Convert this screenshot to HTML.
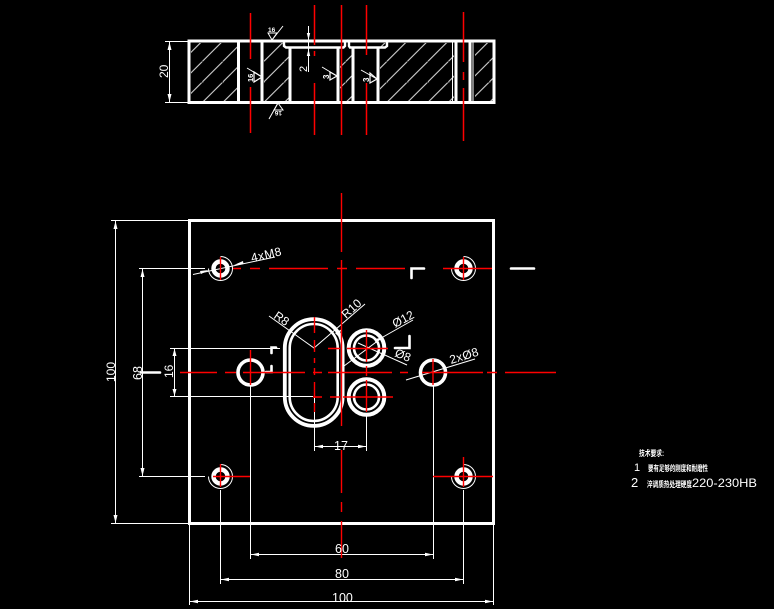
<!DOCTYPE html>
<html><head><meta charset="utf-8"><style>
html,body{margin:0;padding:0;background:#000;width:774px;height:609px;overflow:hidden}
svg{display:block}
text{font-family:"Liberation Sans","Noto Sans CJK SC",sans-serif;fill:#fff}
</style></head><body>
<svg width="774" height="609" viewBox="0 0 774 609" xmlns="http://www.w3.org/2000/svg">
<defs>
<pattern id="h" patternUnits="userSpaceOnUse" width="20.5" height="20.5" patternTransform="translate(17.8,0)">
<path d="M0 20.5L20.5 0" stroke="#ddd" stroke-width="1"/>
</pattern>
</defs>
<rect width="774" height="609" fill="#000"/>

<!-- hatching -->
<g fill="url(#h)">
<rect x="191" y="43" width="46" height="58"/>
<rect x="264" y="43" width="25" height="58"/>
<rect x="340" y="49" width="12" height="52"/>
<rect x="380" y="43" width="74" height="58"/>
<rect x="475" y="43" width="18" height="58"/>
</g>

<!-- section outline -->
<g fill="none" stroke="#fff" stroke-width="3">
<rect x="189" y="41" width="305" height="61.500"/>
<path d="M238.500 41V102M262 41V102M290 47V102M338 47V102M353 47V102M378 47V102M456 41V102M470 41V102"/>
<path d="M284 41V46L286 47.500H343.500L345 46V41M349 41V46L350 47.500H385L387 46V41" stroke-width="2.400"/>
</g>
<path d="M452.500 41V102M473 41V102" stroke="#fff" stroke-width="1"/>

<!-- section dim -->
<g stroke="#fff" stroke-width="1" fill="none">
<path d="M165 41.500H188M165 102.500H188M169.500 42V102"/>
<path d="M308.500 26V72"/>
<path d="M272 40L283 26M278 103L269 119"/>
<path d="M247 68L262 77M322 67L337 76M361 70L377 79"/>
<path d="M268 33H277L272 40ZM274 110H283L278 103Z"/>
<path d="M254 72V82L262 77ZM330 72V80L337 76ZM370 73V83L377 79Z" stroke-width="1.200"/>
</g>
<g fill="#fff">
<path d="M169.500 42L167.500 50H171.500ZM169.500 102L167.500 94H171.500ZM308.500 40L306.800 33H310.200ZM308.500 49L306.800 56H310.200Z"/>
</g>
<text x="0" y="0" font-size="12" transform="translate(168,78) rotate(-90)">20</text>
<text x="0" y="0" font-size="11" transform="translate(307,72) rotate(-90)">2</text>
<text x="268" y="32" font-size="6.500" font-weight="bold">16</text>
<text x="0" y="0" font-size="6.500" font-weight="bold" transform="translate(282,111) rotate(180)">16</text>
<text x="0" y="0" font-size="7.500" font-weight="bold" transform="translate(253,82) rotate(-90)">16</text>
<text x="0" y="0" font-size="8" font-weight="bold" transform="translate(329,79) rotate(-90)">3</text>
<text x="0" y="0" font-size="8" font-weight="bold" transform="translate(369,82) rotate(-90)">3</text>

<!-- section centre lines -->
<g stroke="#f00" stroke-width="1.500" fill="none">
<path d="M250.500 13V59M250.500 87V133"/>
<path d="M314.500 5V45M314.500 51V56M314.500 83V135"/>
<path d="M341.500 5V135"/>
<path d="M366.500 5V55M366.500 83V135"/>
<path d="M463.500 12V62M463.500 72V80M463.500 88V141"/>
</g>

<!-- plate -->
<rect x="189.500" y="220.500" width="304" height="303" fill="none" stroke="#fff" stroke-width="3"/>

<!-- thin dims and extensions -->
<g stroke="#fff" stroke-width="1" fill="none">
<path d="M111 220.500H189M111 523.500H189M115.500 221V523"/>
<path d="M139 268.500H205M139 476.500H205M142.500 269V476"/>
<path d="M170 348.500H280M170 396.500H313M174.500 349V396"/>
<path d="M189.500 524V605M220.500 490V584M250.500 385V559M433.500 385V559M463.500 490V584M493.500 524V605"/>
<path d="M190 601.500H493M221 579.500H463M251 554.500H433"/>
<path d="M314.500 397V451M366.500 416V451M315 446.500H366"/>
<path d="M193 274.500L275 257"/>
<path d="M269 316L314 348L365 304"/>
<path d="M344 366L383 337L413 320"/>
<path d="M358 343L407 365"/>
<path d="M406 380L475 359"/>
</g>
<g fill="#fff">
<path d="M115.500 523L113.500 515H117.500ZM115.500 221L113.500 229H117.500ZM142.500 476L140.500 468H144.500ZM142.500 269L140.500 277H144.500ZM174.500 348.500L172.500 356H176.500ZM174.500 396L172.500 389H176.500Z"/>
<path d="M190 601.500L198 599.700V603.300ZM493 601.500L485 599.700V603.300ZM221 579.500L229 577.700V581.300ZM463 579.500L455 577.700V581.300ZM251 554.500L259 552.700V556.300ZM433 554.500L425 552.700V556.300ZM315 446.500L323 444.700V448.300ZM366 446.500L358 444.700V448.300Z"/>
<path d="M383 337L376 343L374 339.500ZM234 265L243 261L243.500 264ZM209 270L200 271L201 274ZM342 329L338 336L335 333Z"/>
</g>

<!-- thick shapes -->
<g fill="none" stroke="#fff">
<path d="M284.800 348A28.900 28.900 0 0 1 342.600 348V397A28.900 28.900 0 0 1 284.800 397Z" stroke-width="3.800"/>
<path d="M289.700 348A24 24 0 0 1 337.700 348V397A24 24 0 0 1 289.700 397Z" stroke-width="2.600"/>
<circle cx="366.500" cy="348" r="17.800" stroke-width="4"/>
<circle cx="366.500" cy="348" r="12.500" stroke-width="2.600"/>
<circle cx="366.500" cy="397" r="17.800" stroke-width="4"/>
<circle cx="366.500" cy="397" r="12.500" stroke-width="2.600"/>
<circle cx="250.500" cy="372.500" r="12.500" stroke-width="3.600"/>
<circle cx="433" cy="372.500" r="12.500" stroke-width="3.600"/>
<g stroke-width="4.400">
<circle cx="220.500" cy="268.500" r="7"/><circle cx="463.500" cy="268.500" r="7"/>
<circle cx="220.500" cy="476.500" r="7"/><circle cx="463.500" cy="476.500" r="7"/>
</g>
<g stroke-width="1">
<path d="M220.500 256.500A12 12 0 1 1 208.500 268.500"/>
<path d="M463.500 256.500A12 12 0 1 1 451.500 268.500"/>
<path d="M220.500 464.500A12 12 0 1 1 208.500 476.500"/>
<path d="M463.500 464.500A12 12 0 1 1 451.500 476.500"/>
</g>
<g stroke-width="2.600" stroke-linecap="round">
<path d="M424 268.500H411.500V278"/>
<path d="M511 268.500H534"/>
<path d="M276 347.500H271.500V353"/>
<path d="M266 372H271.500V366"/>
<path d="M395 348H409.500V336"/>
<path d="M141 372.500H160"/>
</g>
</g>

<!-- red centre lines plate -->
<g stroke="#f00" stroke-width="1.400" fill="none">
<path d="M180 372.500H217M225 372.500H236M243 372.500H305M313 372.500H322M328 372.500H392M400 372.500H408M422 372.500H483M487 372.500H497M505 372.500H556"/>
<path d="M233 268.500H241M250 268.500H260M269 268.500H328M337 268.500H347M356 268.500H405M443 268.500H492"/>
<path d="M213 476.500H250M433 476.500H493"/>
<path d="M328 348.500H340M347 348.500H388M313 397H322M330 397H340M343 397H393"/>
<path d="M341.500 193V252M341.500 260V426M341.500 450V493M341.500 502V512M341.500 521V558"/>
<path d="M314.500 317V333M314.500 340V352M314.500 358V363M314.500 368V375M314.500 382V398M314.500 403V412"/>
<path d="M366.500 330V362M366.500 366V376M366.500 380V412"/>
<path d="M250.500 350V385M433 359V385"/>
<path d="M220.500 257V280M463.500 257V280M220.500 464V487M463.500 457V487"/>
</g>

<!-- labels -->
<text x="0" y="0" font-size="12" transform="translate(115,382) rotate(-90)">100</text>
<text x="0" y="0" font-size="12.500" transform="translate(142,380) rotate(-90)">68</text>
<text x="0" y="0" font-size="12" transform="translate(173,378) rotate(-90)">16</text>
<text x="0" y="0" font-size="12" style="letter-spacing:.5px" transform="translate(252,262) rotate(-13)">4xM8</text>
<text x="0" y="0" font-size="12" transform="translate(273,317.500) rotate(35)">R8</text>
<text x="0" y="0" font-size="12" transform="translate(346,319) rotate(-42)">R10</text>
<text x="0" y="0" font-size="12" transform="translate(395,328) rotate(-28)">Ø12</text>
<text x="0" y="0" font-size="12" transform="translate(394,356) rotate(22)">Ø8</text>
<text x="0" y="0" font-size="12" style="letter-spacing:.3px" transform="translate(451,364) rotate(-17)">2xØ8</text>
<text x="334" y="450" font-size="12.500">17</text>
<text x="335" y="553" font-size="12.500">60</text>
<text x="335" y="578" font-size="12.500">80</text>
<text x="332" y="602" font-size="12.500">100</text>

<!-- notes -->
<text x="639" y="456" font-size="8" font-weight="bold" textLength="25" lengthAdjust="spacingAndGlyphs">技术要求:</text>
<text x="634" y="471" font-size="11">1</text>
<text x="648" y="471" font-size="8" font-weight="bold" textLength="60" lengthAdjust="spacingAndGlyphs">要有足够的刚度和耐磨性</text>
<text x="631" y="487" font-size="13">2</text>
<text x="647" y="487" font-size="8" font-weight="bold" textLength="45" lengthAdjust="spacingAndGlyphs">淬调质热处理硬度</text>
<text x="692" y="487" font-size="12" textLength="65" lengthAdjust="spacingAndGlyphs">220-230HB</text>
</svg>
</body></html>
